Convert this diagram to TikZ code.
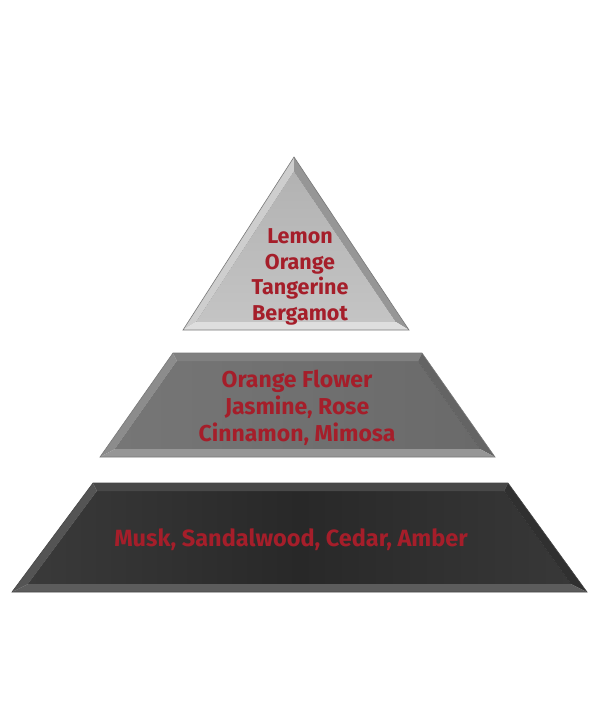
\documentclass[tikz,border=0pt]{standalone}
\usepackage{fontspec}
\setmainfont{Fira Sans}
\usetikzlibrary{calc}
\definecolor{txtred}{RGB}{165,30,42}
\definecolor{edgegray}{RGB}{120,120,120}
% top triangle
\definecolor{tIn1}{RGB}{178,178,178}
\definecolor{tIn2}{RGB}{196,196,196}
\definecolor{tLeft}{RGB}{206,206,206}
\definecolor{tRight}{RGB}{150,150,150}
\definecolor{tBase}{RGB}{222,222,222}
% middle
\definecolor{mInL}{RGB}{118,118,118}
\definecolor{mInM}{RGB}{112,112,112}
\definecolor{mInR}{RGB}{106,106,106}
\definecolor{mTop}{RGB}{128,128,128}
\definecolor{mLeft}{RGB}{140,140,140}
\definecolor{mRight}{RGB}{100,100,100}
\definecolor{mBase}{RGB}{150,150,150}
% bottom
\definecolor{bInL}{RGB}{58,58,58}
\definecolor{bInM}{RGB}{40,40,40}
\definecolor{bInR}{RGB}{56,56,56}
\definecolor{bTop}{RGB}{72,72,72}
\definecolor{bLeft}{RGB}{84,84,84}
\definecolor{bRight}{RGB}{48,48,48}
\definecolor{bBase}{RGB}{92,92,92}
\definecolor{bEdge}{RGB}{70,70,70}
\tikzset{
  label text/.style={text=txtred, align=center, inner sep=0pt},
  outline/.style={draw=edgegray, line width=0.6pt}
}
\begin{document}
\begin{tikzpicture}[x=1pt,y=-1pt]
\useasboundingbox[fill=white] (0,0) rectangle (600,726);

% ---------- top triangle ----------
\coordinate (tA) at (294,157); \coordinate (tB) at (409,330); \coordinate (tC) at (183,330);
\coordinate (tA2) at (294,171); \coordinate (tB2) at (396,322); \coordinate (tC2) at (196,322);
\fill[top color=tIn1, bottom color=tIn2] (tA2) -- (tB2) -- (tC2) -- cycle;
\fill[tLeft] (tA) -- (tC) -- (tC2) -- (tA2) -- cycle;
\fill[tRight] (tA) -- (tB) -- (tB2) -- (tA2) -- cycle;
\fill[tBase] (tC) -- (tB) -- (tB2) -- (tC2) -- cycle;
\draw[outline] (tA) -- (tB) -- (tC) -- cycle;

% ---------- middle trapezoid ----------
\coordinate (mTL) at (173,353); \coordinate (mTR) at (422,353);
\coordinate (mBR) at (495,457); \coordinate (mBL) at (100,457);
\coordinate (mTL2) at (177,361); \coordinate (mTR2) at (418,361);
\coordinate (mBR2) at (480,449); \coordinate (mBL2) at (115,449);
\fill[left color=mInL, right color=mInR, middle color=mInM] (mTL2) -- (mTR2) -- (mBR2) -- (mBL2) -- cycle;
\fill[mTop] (mTL) -- (mTR) -- (mTR2) -- (mTL2) -- cycle;
\fill[mLeft] (mTL) -- (mBL) -- (mBL2) -- (mTL2) -- cycle;
\fill[mRight] (mTR) -- (mBR) -- (mBR2) -- (mTR2) -- cycle;
\fill[mBase] (mBL) -- (mBR) -- (mBR2) -- (mBL2) -- cycle;
\draw[outline] (mTL) -- (mTR) -- (mBR) -- (mBL) -- cycle;

% ---------- bottom trapezoid ----------
\coordinate (bTL) at (93,483); \coordinate (bTR) at (508,483);
\coordinate (bBR) at (587,592); \coordinate (bBL) at (12,592);
\coordinate (bTL2) at (97,491); \coordinate (bTR2) at (504,491);
\coordinate (bBR2) at (571,584); \coordinate (bBL2) at (28,584);
\fill[left color=bInL, right color=bInR, middle color=bInM] (bTL2) -- (bTR2) -- (bBR2) -- (bBL2) -- cycle;
\fill[bTop] (bTL) -- (bTR) -- (bTR2) -- (bTL2) -- cycle;
\fill[bLeft] (bTL) -- (bBL) -- (bBL2) -- (bTL2) -- cycle;
\fill[bRight] (bTR) -- (bBR) -- (bBR2) -- (bTR2) -- cycle;
\fill[bBase] (bBL) -- (bBR) -- (bBR2) -- (bBL2) -- cycle;
\draw[outline, draw=bEdge] (bTL) -- (bTR) -- (bBR) -- (bBL) -- cycle;

% ---------- texts ----------
\node[label text, font=\fontsize{21.5}{25.5}\selectfont\bfseries] (top) at (300,277) {Lemon\\Orange\\Tangerine\\Bergamot};
\node[label text, font=\fontsize{23}{27}\selectfont\bfseries] (mid) at (297,408) {Orange Flower\\Jasmine, Rose\\Cinnamon, Mimosa};
\node[label text, font=\fontsize{23.5}{27}\selectfont\bfseries] (base) at (291,540) {Musk, Sandalwood, Cedar, Amber};
\end{tikzpicture}
\end{document}
